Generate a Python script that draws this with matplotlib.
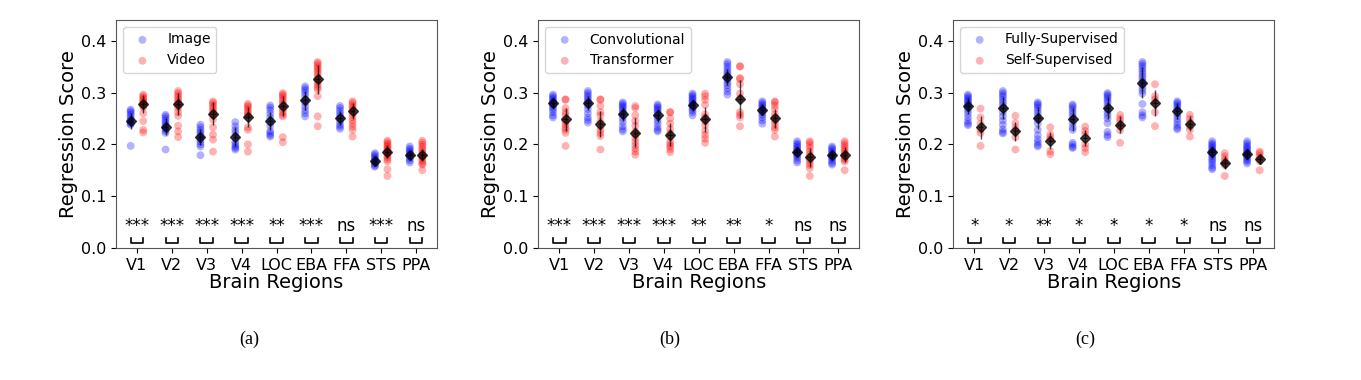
import matplotlib
matplotlib.use('Agg')
import matplotlib.pyplot as plt
import numpy as np

regions = ['V1', 'V2', 'V3', 'V4', 'LOC', 'EBA', 'FFA', 'STS', 'PPA']

# (a) Image vs Video
a_labels = ['Image', 'Video']
a_blue = [
    [0.267, 0.264, 0.261, 0.257, 0.253, 0.249, 0.246, 0.243, 0.240, 0.238, 0.197],
    [0.257, 0.254, 0.250, 0.246, 0.242, 0.238, 0.234, 0.230, 0.226, 0.222, 0.190],
    [0.238, 0.233, 0.228, 0.224, 0.220, 0.215, 0.210, 0.205, 0.200, 0.196, 0.179],
    [0.243, 0.235, 0.228, 0.222, 0.216, 0.205, 0.200, 0.196, 0.193, 0.190],
    [0.275, 0.271, 0.266, 0.259, 0.252, 0.245, 0.236, 0.226, 0.222, 0.218, 0.215],
    [0.312, 0.308, 0.304, 0.299, 0.293, 0.286, 0.280, 0.273, 0.266, 0.260, 0.254],
    [0.274, 0.270, 0.265, 0.260, 0.255, 0.250, 0.244, 0.238, 0.234, 0.230],
    [0.183, 0.180, 0.177, 0.174, 0.171, 0.168, 0.165, 0.162, 0.159, 0.157],
    [0.196, 0.192, 0.189, 0.186, 0.183, 0.180, 0.177, 0.173, 0.169, 0.165],
]
a_red = [
    [0.296, 0.293, 0.290, 0.287, 0.284, 0.281, 0.278, 0.275, 0.271, 0.260, 0.245, 0.228, 0.223],
    [0.303, 0.299, 0.295, 0.291, 0.287, 0.283, 0.279, 0.275, 0.270, 0.262, 0.255, 0.236, 0.225, 0.214],
    [0.283, 0.280, 0.276, 0.272, 0.268, 0.264, 0.260, 0.257, 0.248, 0.233, 0.219, 0.209, 0.186],
    [0.278, 0.275, 0.272, 0.268, 0.264, 0.260, 0.256, 0.254, 0.233, 0.228, 0.200, 0.186],
    [0.299, 0.296, 0.293, 0.289, 0.285, 0.281, 0.277, 0.272, 0.267, 0.262, 0.257, 0.254, 0.214, 0.204],
    [0.359, 0.356, 0.352, 0.348, 0.344, 0.340, 0.335, 0.330, 0.325, 0.320, 0.315, 0.310, 0.306, 0.293, 0.254, 0.235],
    [0.283, 0.280, 0.276, 0.272, 0.268, 0.264, 0.258, 0.252, 0.246, 0.240, 0.234, 0.228, 0.215],
    [0.207, 0.204, 0.201, 0.198, 0.195, 0.192, 0.189, 0.186, 0.183, 0.179, 0.175, 0.171, 0.167, 0.152, 0.139],
    [0.207, 0.203, 0.199, 0.195, 0.191, 0.187, 0.183, 0.179, 0.175, 0.171, 0.167, 0.163, 0.161, 0.150],
]
a_mean_blue = [0.245, 0.234, 0.214, 0.215, 0.245, 0.285, 0.251, 0.168, 0.179]
a_mean_red = [0.278, 0.278, 0.259, 0.253, 0.274, 0.326, 0.264, 0.186, 0.180]
a_err_blue = [0.015, 0.016, 0.016, 0.018, 0.018, 0.018, 0.014, 0.008, 0.007]
a_err_red = [0.018, 0.022, 0.022, 0.020, 0.020, 0.028, 0.016, 0.012, 0.012]
a_sig = ['***', '***', '***', '***', '**', '***', 'ns', '***', 'ns']

# (b) Convolutional vs Transformer
b_labels = ['Convolutional', 'Transformer']
b_blue = [
    [0.296, 0.293, 0.290, 0.287, 0.284, 0.281, 0.278, 0.275, 0.271, 0.267, 0.262, 0.256, 0.252],
    [0.303, 0.299, 0.295, 0.291, 0.287, 0.283, 0.279, 0.275, 0.268, 0.260, 0.252, 0.247, 0.242],
    [0.281, 0.278, 0.275, 0.272, 0.269, 0.265, 0.261, 0.256, 0.250, 0.243, 0.235, 0.229, 0.225],
    [0.277, 0.274, 0.271, 0.268, 0.265, 0.261, 0.257, 0.252, 0.246, 0.240, 0.233, 0.228, 0.225],
    [0.298, 0.295, 0.292, 0.289, 0.286, 0.283, 0.280, 0.277, 0.274, 0.270, 0.266, 0.262, 0.256],
    [0.359, 0.355, 0.350, 0.345, 0.340, 0.336, 0.332, 0.328, 0.324, 0.319, 0.314, 0.308, 0.302, 0.296],
    [0.283, 0.280, 0.277, 0.274, 0.271, 0.268, 0.265, 0.261, 0.257, 0.252, 0.246, 0.240],
    [0.206, 0.202, 0.199, 0.196, 0.193, 0.190, 0.187, 0.184, 0.181, 0.178, 0.174, 0.169, 0.165],
    [0.196, 0.193, 0.190, 0.187, 0.184, 0.181, 0.178, 0.175, 0.172, 0.168, 0.164, 0.161],
]
b_red = [
    [0.287, 0.286, 0.270, 0.262, 0.257, 0.248, 0.243, 0.238, 0.232, 0.228, 0.222, 0.197],
    [0.287, 0.286, 0.274, 0.262, 0.256, 0.245, 0.235, 0.228, 0.222, 0.216, 0.190],
    [0.274, 0.270, 0.256, 0.245, 0.236, 0.225, 0.219, 0.212, 0.205, 0.198, 0.192, 0.186, 0.180],
    [0.262, 0.262, 0.250, 0.240, 0.230, 0.222, 0.214, 0.205, 0.200, 0.196, 0.191, 0.185],
    [0.298, 0.293, 0.286, 0.276, 0.258, 0.252, 0.245, 0.237, 0.226, 0.218, 0.211, 0.203],
    [0.351, 0.350, 0.328, 0.326, 0.316, 0.298, 0.289, 0.262, 0.257, 0.252, 0.235],
    [0.283, 0.281, 0.275, 0.268, 0.258, 0.252, 0.246, 0.240, 0.233, 0.228, 0.215],
    [0.206, 0.203, 0.198, 0.193, 0.187, 0.181, 0.176, 0.170, 0.165, 0.160, 0.154, 0.139],
    [0.206, 0.202, 0.198, 0.194, 0.190, 0.186, 0.182, 0.178, 0.174, 0.170, 0.167, 0.150],
]
b_mean_blue = [0.280, 0.280, 0.259, 0.256, 0.275, 0.330, 0.267, 0.186, 0.180]
b_mean_red = [0.248, 0.240, 0.222, 0.219, 0.248, 0.288, 0.250, 0.175, 0.180]
b_err_blue = [0.010, 0.013, 0.014, 0.012, 0.010, 0.015, 0.010, 0.009, 0.008]
b_err_red = [0.022, 0.025, 0.028, 0.022, 0.025, 0.037, 0.018, 0.018, 0.014]
b_sig = ['***', '***', '***', '***', '**', '**', '*', 'ns', 'ns']

# (c) Fully-Supervised vs Self-Supervised
c_labels = ['Fully-Supervised', 'Self-Supervised']
c_blue = [
    [0.296, 0.293, 0.290, 0.287, 0.284, 0.281, 0.278, 0.274, 0.270, 0.265, 0.259, 0.252, 0.245, 0.240, 0.237],
    [0.303, 0.299, 0.295, 0.291, 0.286, 0.281, 0.276, 0.270, 0.262, 0.254, 0.246, 0.238, 0.229, 0.224, 0.221],
    [0.281, 0.278, 0.275, 0.271, 0.266, 0.260, 0.254, 0.248, 0.240, 0.228, 0.218, 0.210, 0.204, 0.199, 0.196],
    [0.277, 0.274, 0.270, 0.265, 0.260, 0.254, 0.248, 0.241, 0.233, 0.228, 0.203, 0.199, 0.195, 0.193],
    [0.299, 0.296, 0.293, 0.289, 0.285, 0.280, 0.274, 0.268, 0.262, 0.256, 0.250, 0.241, 0.224, 0.218, 0.214],
    [0.359, 0.355, 0.351, 0.346, 0.341, 0.336, 0.331, 0.326, 0.321, 0.316, 0.310, 0.304, 0.298, 0.278, 0.262, 0.256, 0.252],
    [0.283, 0.280, 0.277, 0.273, 0.269, 0.265, 0.260, 0.255, 0.249, 0.243, 0.237, 0.232, 0.229],
    [0.206, 0.202, 0.199, 0.196, 0.193, 0.190, 0.187, 0.184, 0.181, 0.177, 0.173, 0.169, 0.165, 0.160, 0.155, 0.152],
    [0.206, 0.202, 0.198, 0.195, 0.192, 0.189, 0.186, 0.183, 0.180, 0.177, 0.174, 0.170, 0.167, 0.163],
]
c_red = [
    [0.269, 0.252, 0.240, 0.228, 0.222, 0.197],
    [0.255, 0.241, 0.232, 0.225, 0.214, 0.190],
    [0.233, 0.219, 0.213, 0.209, 0.187, 0.181],
    [0.234, 0.226, 0.219, 0.200, 0.193, 0.185],
    [0.257, 0.250, 0.245, 0.237, 0.227, 0.203],
    [0.316, 0.293, 0.287, 0.280, 0.262, 0.235],
    [0.257, 0.250, 0.243, 0.235, 0.228, 0.215],
    [0.183, 0.177, 0.171, 0.166, 0.160, 0.139],
    [0.186, 0.183, 0.178, 0.173, 0.168, 0.150],
]
c_mean_blue = [0.274, 0.270, 0.251, 0.248, 0.270, 0.319, 0.264, 0.185, 0.182]
c_mean_red = [0.233, 0.225, 0.207, 0.212, 0.238, 0.279, 0.240, 0.165, 0.172]
c_err_blue = [0.016, 0.022, 0.022, 0.022, 0.022, 0.030, 0.016, 0.012, 0.010]
c_err_red = [0.022, 0.018, 0.016, 0.016, 0.016, 0.025, 0.014, 0.013, 0.010]
c_sig = ['*', '*', '**', '*', '*', '*', '*', 'ns', 'ns']

panel_tags = ['(a)', '(b)', '(c)']


def draw_panel(ax, labels, blue, red, mb, mr, eb, er, sig):
    off = 0.18
    for i in range(len(regions)):
        ax.scatter([i - off] * len(blue[i]), blue[i], s=32, color='blue', alpha=0.3,
                   edgecolors='none', label=labels[0] if i == 0 else None)
        ax.scatter([i + off] * len(red[i]), red[i], s=32, color='red', alpha=0.3,
                   edgecolors='none', label=labels[1] if i == 0 else None)
        for x, m, e in [(i - off, mb[i], eb[i]), (i + off, mr[i], er[i])]:
            ax.errorbar(x, m, yerr=e, xerr=0.08, fmt='D', color='black', alpha=0.7,
                        markersize=5, elinewidth=1)
        # significance bracket + stars
        ax.plot([i - off, i - off, i + off, i + off], [0.02, 0.01, 0.01, 0.02],
                color='black', lw=1.2)
        ax.text(i, 0.033, sig[i], ha='center', va='baseline', fontsize=12)
    ax.set_xlim(-0.6, 8.6)
    ax.set_ylim(0, 0.44)
    ax.set_xticks(range(len(regions)))
    ax.set_xticklabels(regions)
    ax.set_yticks([0.0, 0.1, 0.2, 0.3, 0.4])
    ax.tick_params(labelsize=11.5)
    ax.set_xlabel('Brain Regions', fontsize=14, labelpad=0)
    ax.set_ylabel('Regression Score', fontsize=14, labelpad=2)
    ax.legend(loc='upper left', fontsize=10)
    for sp in ax.spines.values():
        sp.set_color('#555555')


fig = plt.figure(figsize=(13.61, 3.80), dpi=100)
lefts = [116 / 1361, 538.3 / 1361, 953.3 / 1361]
panels = [
    (a_labels, a_blue, a_red, a_mean_blue, a_mean_red, a_err_blue, a_err_red, a_sig),
    (b_labels, b_blue, b_red, b_mean_blue, b_mean_red, b_err_blue, b_err_red, b_sig),
    (c_labels, c_blue, c_red, c_mean_blue, c_mean_red, c_err_blue, c_err_red, c_sig),
]
tag_x = [249 / 1361, 670 / 1361, 1085 / 1361]
for left, p, tag, tx in zip(lefts, panels, panel_tags, tag_x):
    ax = fig.add_axes([left, 132 / 380, 321 / 1361, 228 / 380])
    draw_panel(ax, *p)
    fig.text(tx, 1 - 339 / 380, tag, ha='center', va='center', fontsize=13,
             family='Liberation Serif')

fig.savefig('out.png', dpi=100)
